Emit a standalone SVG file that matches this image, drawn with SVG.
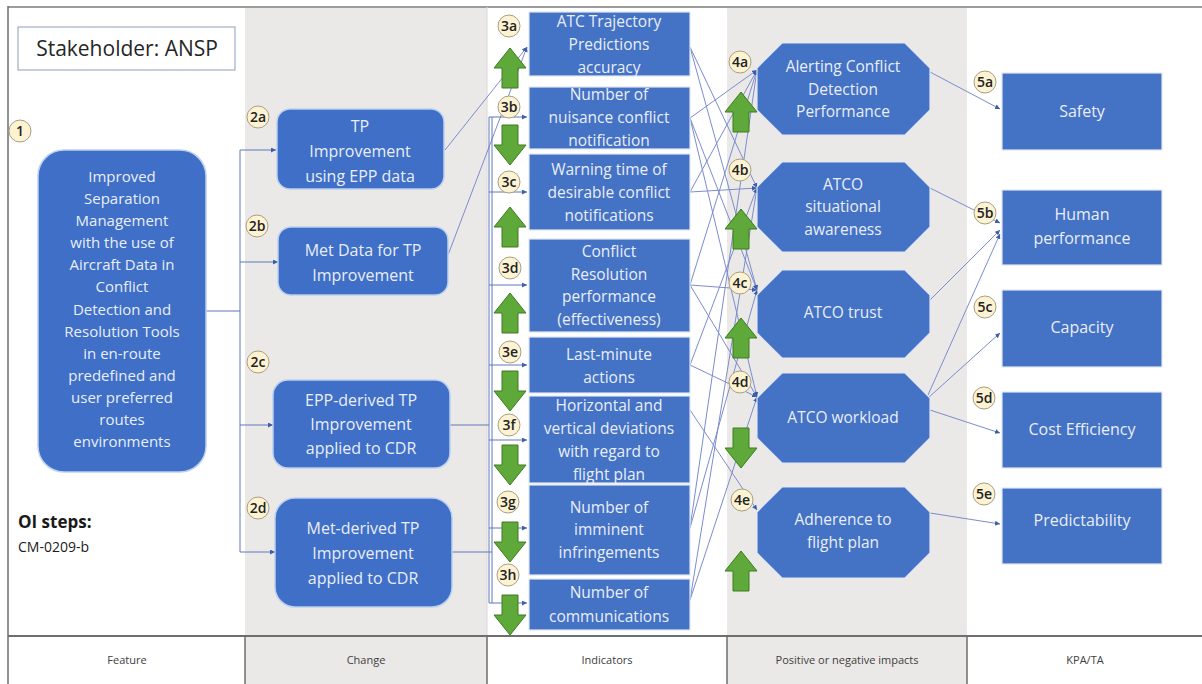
<svg xmlns="http://www.w3.org/2000/svg" width="1202" height="684" viewBox="0 0 1202 684">
<defs>
<style>
.t{font-family:"Open Sans","Noto Sans","Liberation Sans",sans-serif;fill:#e9eef9;text-anchor:middle}
.n1{font-size:15px}
.n2{font-size:16px}
.n3{font-size:15.5px}
.n4{font-size:15.5px}
.n5{font-size:16px}
.box{fill:#4472c4;stroke:#dfe7f5;stroke-width:1.2}
.rbox{fill:#3f6fc6;stroke:#bcd0ef;stroke-width:1.5}
.badge circle{fill:#fdf3d3;stroke:#a89f83;stroke-width:1}
.badge text{font-family:"Open Sans","Liberation Sans",sans-serif;font-size:14px;fill:#222;text-anchor:middle;font-weight:600}
.ln{fill:none;stroke:#7b8cce;stroke-width:1}
.tr{fill:none;stroke:#5f79b8;stroke-width:1}
.g{fill:#5ea93a;stroke:#3e7a22;stroke-width:1}
.lab{font-family:"Open Sans","Liberation Sans",sans-serif;font-size:11px;fill:#404040;text-anchor:middle}
</style>
<marker id="ah" viewBox="0 0 6 6" refX="6" refY="3" markerWidth="5" markerHeight="5" orient="auto" markerUnits="userSpaceOnUse">
<path d="M0,0 L6,3 L0,6 Z" fill="#3d5ea8"/>
</marker>
<path id="up" class="g" d="M0,0 L16,20 L8,20 L8,40 L-8,40 L-8,20 L-16,20 Z"/>
<path id="dn" class="g" d="M-8,0 L8,0 L8,20 L16,20 L0,40 L-16,20 L-8,20 Z"/>
</defs>

<!-- background -->
<rect x="0" y="0" width="1202" height="684" fill="#ffffff"/>
<rect x="245" y="7" width="242" height="677" fill="#ebe9e7"/>
<rect x="727" y="7" width="240" height="677" fill="#ebe9e7"/>
<line x1="8" y1="7" x2="1202" y2="7" stroke="#9c9c9c" stroke-width="2"/>
<line x1="8" y1="6" x2="8" y2="684" stroke="#6e6e6e" stroke-width="1.5"/>
<line x1="487" y1="7" x2="487" y2="636" stroke="#d8d8d8" stroke-width="1"/>
<line x1="8" y1="636" x2="1202" y2="636" stroke="#6e6e6e" stroke-width="2"/>
<g stroke="#6e6e6e" stroke-width="1.5">
<line x1="245" y1="636" x2="245" y2="684"/>
<line x1="487" y1="636" x2="487" y2="684"/>
<line x1="727" y1="636" x2="727" y2="684"/>
<line x1="967" y1="636" x2="967" y2="684"/>
</g>
<text class="lab" x="127" y="664">Feature</text>
<text class="lab" x="366" y="664">Change</text>
<text class="lab" x="607" y="664">Indicators</text>
<text class="lab" x="847" y="664">Positive or negative impacts</text>
<text class="lab" x="1085" y="664">KPA/TA</text>

<g id="stakeholder">
<rect x="18" y="27" width="217" height="43" fill="#ffffff" stroke="#8d9bb8" stroke-width="1"/>
<text x="127" y="56" font-family="Open Sans, Liberation Sans, sans-serif" font-size="21px" fill="#262626" text-anchor="middle">Stakeholder: ANSP</text>
</g>
<g id="oi-steps">
<text x="18" y="528" font-family="Open Sans, Liberation Sans, sans-serif" font-size="17px" font-weight="bold" fill="#1a1a1a">OI steps:</text>
<text x="18" y="552" font-family="Open Sans, Liberation Sans, sans-serif" font-size="14px" fill="#1a1a1a">CM-0209-b</text>
</g>

<!-- connectors -->
<g id="connectors">
<path class="tr" d="M205,311 H240"/>
<path class="tr" d="M240,150 V552"/>
<path class="tr" d="M240,150 H276" marker-end="url(#ah)"/>
<path class="tr" d="M240,262 H278" marker-end="url(#ah)"/>
<path class="tr" d="M240,425 H273" marker-end="url(#ah)"/>
<path class="tr" d="M240,552 H275" marker-end="url(#ah)"/>
<path class="ln" d="M445,150 L527,47" marker-end="url(#ah)"/>
<path class="ln" d="M448,255 L527,47" marker-end="url(#ah)"/>
<path class="tr" d="M450,425 H489"/>
<path class="tr" d="M452,552 H492"/>
<path class="tr" d="M489,117 V603"/>
<path class="tr" d="M492,117 V603"/>
<path class="tr" d="M489,117 H527" marker-end="url(#ah)"/>
<path class="tr" d="M489,192 H527" marker-end="url(#ah)"/>
<path class="tr" d="M489,285 H527" marker-end="url(#ah)"/>
<path class="tr" d="M489,365 H527" marker-end="url(#ah)"/>
<path class="tr" d="M489,440 H527" marker-end="url(#ah)"/>
<path class="tr" d="M489,528 H527" marker-end="url(#ah)"/>
<path class="tr" d="M489,603 H527" marker-end="url(#ah)"/>
<!-- indicators to impacts -->
<path class="ln" d="M690,47 L757,188" marker-end="url(#ah)"/>
<path class="ln" d="M690,47 L757,290" marker-end="url(#ah)"/>
<path class="ln" d="M690,118 L757,70" marker-end="url(#ah)"/>
<path class="ln" d="M690,118 L757,290" marker-end="url(#ah)"/>
<path class="ln" d="M690,118 L757,397" marker-end="url(#ah)"/>
<path class="ln" d="M690,192 L757,70" marker-end="url(#ah)"/>
<path class="ln" d="M690,192 L757,188" marker-end="url(#ah)"/>
<path class="ln" d="M690,285 L757,70" marker-end="url(#ah)"/>
<path class="ln" d="M690,285 L757,290" marker-end="url(#ah)"/>
<path class="ln" d="M690,285 L757,397" marker-end="url(#ah)"/>
<path class="ln" d="M690,365 L757,188" marker-end="url(#ah)"/>
<path class="ln" d="M690,365 L757,397" marker-end="url(#ah)"/>
<path class="ln" d="M690,410 L757,510" marker-end="url(#ah)"/>
<path class="ln" d="M690,528 L757,70" marker-end="url(#ah)"/>
<path class="ln" d="M690,528 L757,290" marker-end="url(#ah)"/>
<path class="ln" d="M690,600 L757,188" marker-end="url(#ah)"/>
<path class="ln" d="M690,600 L757,397" marker-end="url(#ah)"/>
<!-- impacts to KPA -->
<path class="ln" d="M930,72 L1000,109" marker-end="url(#ah)"/>
<path class="ln" d="M926,186 L1000,223" marker-end="url(#ah)"/>
<path class="ln" d="M930,300 L1000,230" marker-end="url(#ah)"/>
<path class="ln" d="M928,395 L1000,234" marker-end="url(#ah)"/>
<path class="ln" d="M928,398 L1000,333" marker-end="url(#ah)"/>
<path class="ln" d="M930,410 L1000,433" marker-end="url(#ah)"/>
<path class="ln" d="M930,513 L1000,524" marker-end="url(#ah)"/>
</g>

<!-- Feature -->
<g id="n1">
<rect class="rbox" x="38" y="150" width="168" height="322" rx="26"/>
<text class="t n1" x="122" y="182">Improved</text>
<text class="t n1" x="122" y="204">Separation</text>
<text class="t n1" x="122" y="226">Management</text>
<text class="t n1" x="122" y="248">with the use of</text>
<text class="t n1" x="122" y="270">Aircraft Data in</text>
<text class="t n1" x="122" y="292">Conflict</text>
<text class="t n1" x="122" y="315">Detection and</text>
<text class="t n1" x="122" y="337">Resolution Tools</text>
<text class="t n1" x="122" y="359">in en-route</text>
<text class="t n1" x="122" y="381">predefined and</text>
<text class="t n1" x="122" y="403">user preferred</text>
<text class="t n1" x="122" y="425">routes</text>
<text class="t n1" x="122" y="447">environments</text>
</g>
<g class="badge" id="b1"><circle cx="20" cy="131" r="11"/><text x="20" y="136">1</text></g>

<!-- Change -->
<g id="n2a">
<rect class="rbox" x="277" y="109" width="167" height="80" rx="13"/>
<text class="t n2" x="360" y="132">TP</text>
<text class="t n2" x="360" y="157">Improvement</text>
<text class="t n2" x="360" y="182">using EPP data</text>
</g>
<g class="badge"><circle cx="258" cy="117" r="11"/><text x="258" y="122">2a</text></g>
<g id="n2b">
<rect class="rbox" x="278" y="227" width="170" height="68" rx="13"/>
<text class="t n2" x="363" y="256">Met Data for TP</text>
<text class="t n2" x="363" y="281">Improvement</text>
</g>
<g class="badge"><circle cx="257" cy="226" r="11"/><text x="257" y="231">2b</text></g>
<g id="n2c">
<rect class="rbox" x="273" y="380" width="177" height="88" rx="15"/>
<text class="t n2" x="361" y="406">EPP-derived TP</text>
<text class="t n2" x="361" y="430">Improvement</text>
<text class="t n2" x="361" y="454">applied to CDR</text>
</g>
<g class="badge"><circle cx="258" cy="362" r="11"/><text x="258" y="367">2c</text></g>
<g id="n2d">
<rect class="rbox" x="275" y="498" width="177" height="109" rx="20"/>
<text class="t n2" x="363" y="534">Met-derived TP</text>
<text class="t n2" x="363" y="559">Improvement</text>
<text class="t n2" x="363" y="584">applied to CDR</text>
</g>
<g class="badge"><circle cx="258" cy="508" r="11"/><text x="258" y="513">2d</text></g>

<!-- Indicators -->
<g id="n3a">
<rect class="box" x="529" y="12" width="161" height="64"/>
<text class="t n3" x="609" y="27">ATC Trajectory</text>
<text class="t n3" x="609" y="50">Predictions</text>
<text class="t n3" x="609" y="73">accuracy</text>
</g>
<g id="n3b">
<rect class="box" x="529" y="87" width="161" height="62"/>
<text class="t n3" x="609" y="100">Number of</text>
<text class="t n3" x="609" y="123">nuisance conflict</text>
<text class="t n3" x="609" y="146">notification</text>
</g>
<g id="n3c">
<rect class="box" x="529" y="154" width="161" height="76"/>
<text class="t n3" x="609" y="175">Warning time of</text>
<text class="t n3" x="609" y="198">desirable conflict</text>
<text class="t n3" x="609" y="221">notifications</text>
</g>
<g id="n3d">
<rect class="box" x="529" y="239" width="161" height="93"/>
<text class="t n3" x="609" y="257">Conflict</text>
<text class="t n3" x="609" y="280">Resolution</text>
<text class="t n3" x="609" y="302">performance</text>
<text class="t n3" x="609" y="325">(effectiveness)</text>
</g>
<g id="n3e">
<rect class="box" x="529" y="337" width="161" height="56"/>
<text class="t n3" x="609" y="360">Last-minute</text>
<text class="t n3" x="609" y="383">actions</text>
</g>
<g id="n3f">
<rect class="box" x="529" y="396" width="161" height="87"/>
<text class="t n3" x="609" y="411">Horizontal and</text>
<text class="t n3" x="609" y="434">vertical deviations</text>
<text class="t n3" x="609" y="457">with regard to</text>
<text class="t n3" x="609" y="480">flight plan</text>
</g>
<g id="n3g">
<rect class="box" x="529" y="485" width="161" height="90"/>
<text class="t n3" x="609" y="513">Number of</text>
<text class="t n3" x="609" y="535">imminent</text>
<text class="t n3" x="609" y="558">infringements</text>
</g>
<g id="n3h">
<rect class="box" x="529" y="579" width="161" height="51"/>
<text class="t n3" x="609" y="598">Number of</text>
<text class="t n3" x="609" y="622">communications</text>
</g>
<g id="arrows3">
<use href="#up" x="510" y="48"/>
<use href="#dn" x="510" y="125"/>
<use href="#up" x="510" y="207"/>
<use href="#up" x="510" y="293"/>
<use href="#dn" x="510" y="371"/>
<use href="#dn" x="510" y="445"/>
<use href="#dn" x="510" y="522"/>
<use href="#dn" x="510" y="595"/>
</g>
<g class="badge"><circle cx="509" cy="26" r="11"/><text x="509" y="31">3a</text></g>
<g class="badge"><circle cx="509" cy="107" r="11"/><text x="509" y="112">3b</text></g>
<g class="badge"><circle cx="509" cy="182" r="11"/><text x="509" y="187">3c</text></g>
<g class="badge"><circle cx="510" cy="268" r="11"/><text x="510" y="273">3d</text></g>
<g class="badge"><circle cx="510" cy="352" r="11"/><text x="510" y="357">3e</text></g>
<g class="badge"><circle cx="509" cy="425" r="11"/><text x="509" y="430">3f</text></g>
<g class="badge"><circle cx="508" cy="502" r="11"/><text x="508" y="507">3g</text></g>
<g class="badge"><circle cx="508" cy="575" r="11"/><text x="508" y="580">3h</text></g>

<!-- Impacts -->
<g id="n4a">
<polygon class="box" points="782,43 905,43 930,68 930,110 905,135 782,135 757,110 757,68"/>
<text class="t n4" x="843" y="72">Alerting Conflict</text>
<text class="t n4" x="843" y="95">Detection</text>
<text class="t n4" x="843" y="117">Performance</text>
</g>
<g id="n4b">
<polygon class="box" points="782,162 905,162 930,187 930,227 905,252 782,252 757,227 757,187"/>
<text class="t n4" x="843" y="190">ATCO</text>
<text class="t n4" x="843" y="212">situational</text>
<text class="t n4" x="843" y="235">awareness</text>
</g>
<g id="n4c">
<polygon class="box" points="782,270 905,270 930,295 930,333 905,358 782,358 757,333 757,295"/>
<text class="t n4" x="843" y="318">ATCO trust</text>
</g>
<g id="n4d">
<polygon class="box" points="782,373 905,373 930,398 930,438 905,463 782,463 757,438 757,398"/>
<text class="t n4" x="843" y="423">ATCO workload</text>
</g>
<g id="n4e">
<polygon class="box" points="782,487 905,487 930,512 930,553 905,578 782,578 757,553 757,512"/>
<text class="t n4" x="843" y="525">Adherence to</text>
<text class="t n4" x="843" y="548">flight plan</text>
</g>
<g id="arrows4">
<use href="#up" x="741" y="92"/>
<use href="#up" x="741" y="209"/>
<use href="#up" x="741" y="318"/>
<use href="#dn" x="741" y="428"/>
<use href="#up" x="741" y="551"/>
</g>
<g class="badge"><circle cx="740" cy="62" r="11"/><text x="740" y="67">4a</text></g>
<g class="badge"><circle cx="740" cy="170" r="11"/><text x="740" y="175">4b</text></g>
<g class="badge"><circle cx="740" cy="283" r="11"/><text x="740" y="288">4c</text></g>
<g class="badge"><circle cx="740" cy="382" r="11"/><text x="740" y="387">4d</text></g>
<g class="badge"><circle cx="742" cy="500" r="11"/><text x="742" y="505">4e</text></g>

<!-- KPA -->
<g id="n5a">
<rect class="box" x="1002" y="73" width="160" height="77"/>
<text class="t n5" x="1082" y="117">Safety</text>
</g>
<g id="n5b">
<rect class="box" x="1002" y="190" width="160" height="75"/>
<text class="t n5" x="1082" y="220">Human</text>
<text class="t n5" x="1082" y="244">performance</text>
</g>
<g id="n5c">
<rect class="box" x="1002" y="290" width="160" height="77"/>
<text class="t n5" x="1082" y="333">Capacity</text>
</g>
<g id="n5d">
<rect class="box" x="1002" y="392" width="160" height="76"/>
<text class="t n5" x="1082" y="435">Cost Efficiency</text>
</g>
<g id="n5e">
<rect class="box" x="1002" y="488" width="160" height="76"/>
<text class="t n5" x="1082" y="526">Predictability</text>
</g>
<g class="badge"><circle cx="985" cy="82" r="11"/><text x="985" y="87">5a</text></g>
<g class="badge"><circle cx="985" cy="213" r="11"/><text x="985" y="218">5b</text></g>
<g class="badge"><circle cx="985" cy="307" r="11"/><text x="985" y="312">5c</text></g>
<g class="badge"><circle cx="984" cy="398" r="11"/><text x="984" y="403">5d</text></g>
<g class="badge"><circle cx="984" cy="494" r="11"/><text x="984" y="499">5e</text></g>
</svg>
